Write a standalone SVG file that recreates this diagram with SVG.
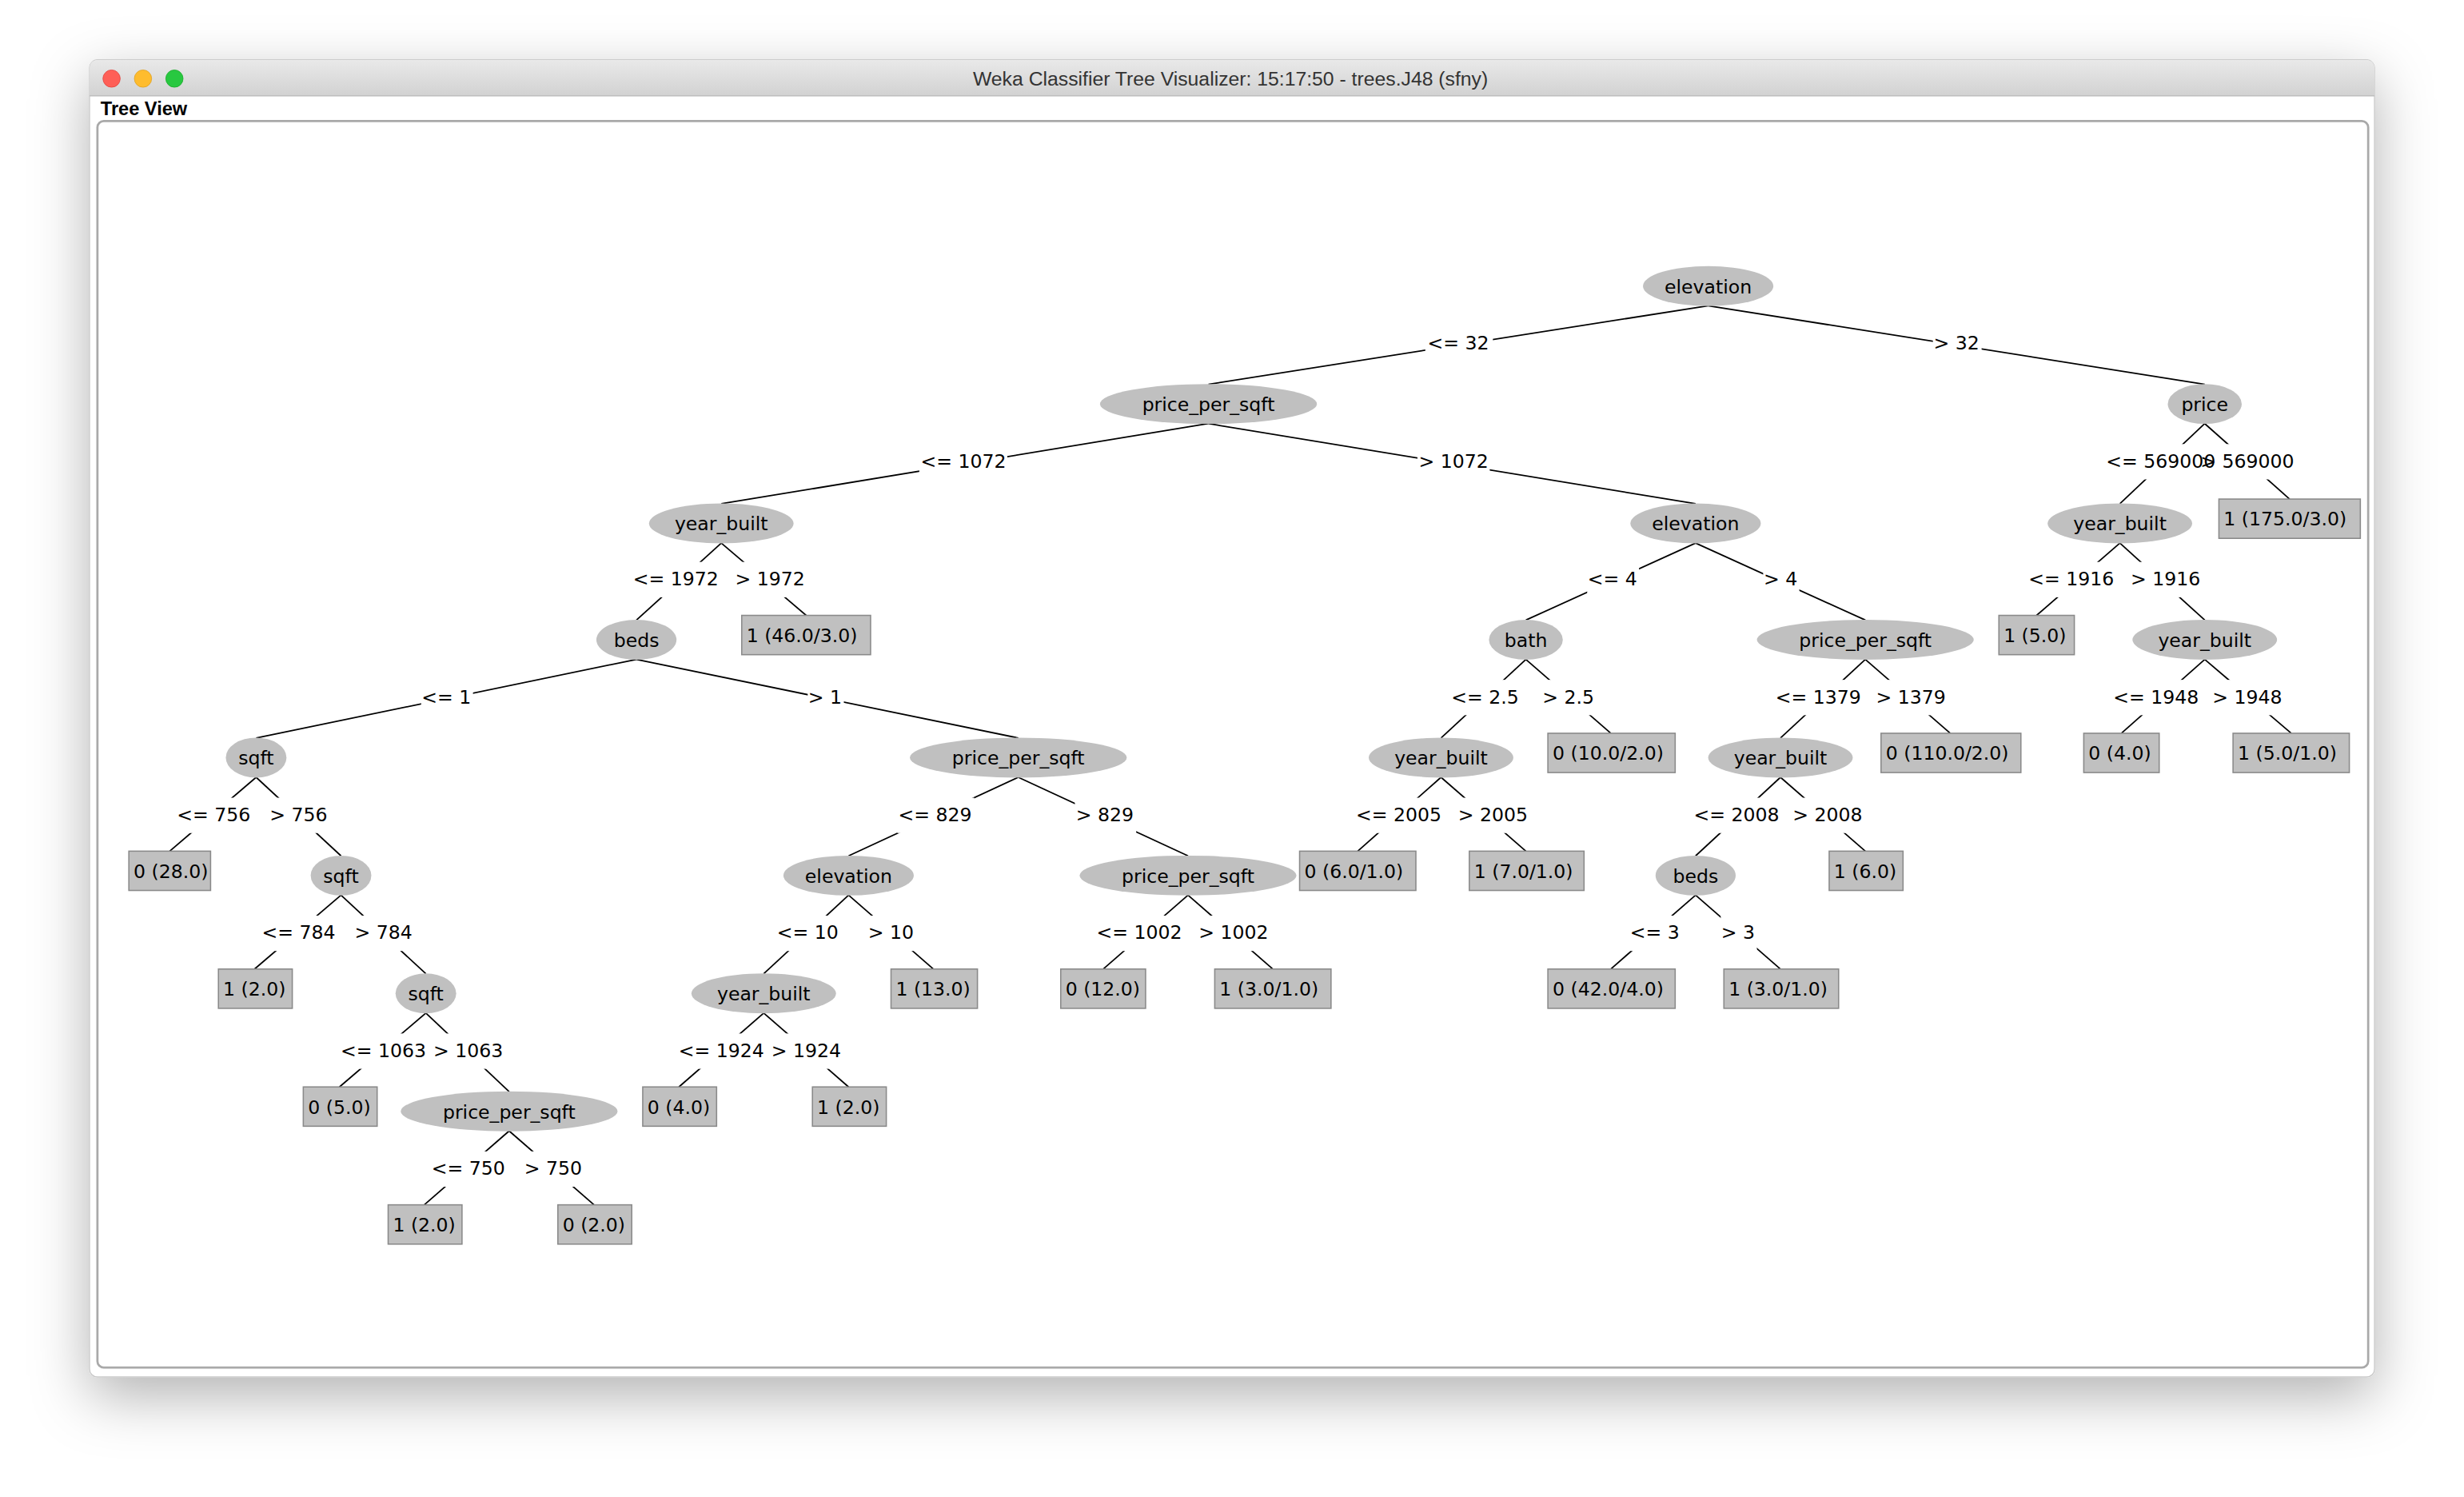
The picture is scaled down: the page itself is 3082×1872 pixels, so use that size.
<svg xmlns="http://www.w3.org/2000/svg" width="3082" height="1872" viewBox="0 0 3082 1872">
<style>
.n ellipse{fill:#c0c0c0}
.lf rect{fill:#c0c0c0;stroke:#8a8a8a;stroke-width:0.8}
.t{font-family:"DejaVu Sans",sans-serif;font-size:12px;fill:#000}
.c{text-anchor:middle}
.ed line{stroke:#000;stroke-width:0.9}
</style>
<defs>
<filter id="sh" x="-10%" y="-10%" width="120%" height="125%"><feDropShadow dx="0" dy="12" stdDeviation="18" flood-color="#000" flood-opacity="0.3"/></filter>
<linearGradient id="tb" x1="0" y1="0" x2="0" y2="1"><stop offset="0" stop-color="#e9e9e9"/><stop offset="1" stop-color="#d2d2d2"/></linearGradient>
<mask id="m" maskUnits="userSpaceOnUse" x="0" y="0" width="1600" height="1000">
<rect x="0" y="0" width="1600" height="1000" fill="#fff"/>
<g fill="#000">
<rect x="907" y="207.5" width="43" height="22.5"/><rect x="1230" y="207.5" width="31" height="22.5"/>
<rect x="585" y="282.5" width="56" height="22.5"/><rect x="902" y="282.5" width="46" height="22.5"/>
<rect x="1339" y="282.5" width="72" height="22.5"/><rect x="1399" y="282.5" width="62" height="22.5"/>
<rect x="402" y="357.5" width="56" height="22.5"/><rect x="467" y="357.5" width="46" height="22.5"/>
<rect x="1010" y="357.5" width="33" height="22.5"/><rect x="1122" y="357.5" width="23" height="22.5"/>
<rect x="1290" y="357.5" width="56" height="22.5"/><rect x="1355" y="357.5" width="46" height="22.5"/>
<rect x="268" y="432.5" width="33" height="22.5"/><rect x="514" y="432.5" width="23" height="22.5"/>
<rect x="923" y="432.5" width="45" height="22.5"/><rect x="981" y="432.5" width="35" height="22.5"/>
<rect x="1129" y="432.5" width="56" height="22.5"/><rect x="1193" y="432.5" width="46" height="22.5"/>
<rect x="1344" y="432.5" width="56" height="22.5"/><rect x="1407" y="432.5" width="46" height="22.5"/>
<rect x="112" y="507.5" width="49" height="22.5"/><rect x="171" y="507.5" width="39" height="22.5"/>
<rect x="571" y="507.5" width="49" height="22.5"/><rect x="684" y="507.5" width="39" height="22.5"/>
<rect x="862" y="507.5" width="56" height="22.5"/><rect x="927" y="507.5" width="46" height="22.5"/>
<rect x="1077" y="507.5" width="56" height="22.5"/><rect x="1140" y="507.5" width="46" height="22.5"/>
<rect x="166" y="582.5" width="49" height="22.5"/><rect x="225" y="582.5" width="39" height="22.5"/>
<rect x="494" y="582.5" width="41" height="22.5"/><rect x="552" y="582.5" width="31" height="22.5"/>
<rect x="697" y="582.5" width="56" height="22.5"/><rect x="762" y="582.5" width="46" height="22.5"/>
<rect x="1037" y="582.5" width="33" height="22.5"/><rect x="1095" y="582.5" width="23" height="22.5"/>
<rect x="216" y="657.5" width="56" height="22.5"/><rect x="275" y="657.5" width="46" height="22.5"/>
<rect x="431" y="657.5" width="56" height="22.5"/><rect x="490" y="657.5" width="46" height="22.5"/>
<rect x="274" y="732.5" width="49" height="22.5"/><rect x="333" y="732.5" width="39" height="22.5"/>
</g></mask>
</defs>
<rect width="3082" height="1872" fill="#fff"/>
<g transform="scale(1.9656)">
<g id="window">
<rect x="57" y="38" width="1454" height="838" rx="5" fill="#fff" stroke="#c4c4c4" stroke-width="0.6" filter="url(#sh)"/>
<path d="M57 61 V43 a5 5 0 0 1 5 -5 H1506 a5 5 0 0 1 5 5 V61 Z" fill="url(#tb)"/>
<line x1="57" y1="61" x2="1511" y2="61" stroke="#b8b8b8" stroke-width="0.6"/>
<circle cx="71" cy="50" r="5.5" fill="#fe5f57" stroke="#e0443e" stroke-width="0.4"/>
<circle cx="91" cy="50" r="5.5" fill="#febc2e" stroke="#dea123" stroke-width="0.4"/>
<circle cx="111" cy="50" r="5.5" fill="#28c840" stroke="#1aab29" stroke-width="0.4"/>
<text x="783" y="54.5" text-anchor="middle" font-family="Liberation Sans, sans-serif" font-size="12.6" fill="#333">Weka Classifier Tree Visualizer: 15:17:50 - trees.J48 (sfny)</text>
<text x="64" y="73.5" font-family="Liberation Sans, sans-serif" font-weight="bold" font-size="12" fill="#000">Tree View</text>
<rect x="62" y="77" width="1445" height="793" rx="4" fill="#fff" stroke="#a9a9a9" stroke-width="1.4"/>
</g>
<g id="connectors" class="ed" mask="url(#m)">
<line x1="1087" y1="194.5" x2="769" y2="244.5"/><line x1="1087" y1="194.5" x2="1403" y2="244.5"/>
<line x1="769" y1="269.5" x2="459" y2="320.5"/><line x1="769" y1="269.5" x2="1079" y2="320.5"/>
<line x1="1403" y1="269.5" x2="1349" y2="320.5"/><line x1="1403" y1="269.5" x2="1457" y2="317.5"/>
<line x1="459" y1="345.5" x2="405" y2="394.5"/><line x1="459" y1="345.5" x2="513" y2="391.5"/>
<line x1="1079" y1="345.5" x2="971" y2="394.5"/><line x1="1079" y1="345.5" x2="1187" y2="394.5"/>
<line x1="1349" y1="345.5" x2="1296" y2="391.5"/><line x1="1349" y1="345.5" x2="1403" y2="394.5"/>
<line x1="405" y1="419.5" x2="163" y2="469.5"/><line x1="405" y1="419.5" x2="648" y2="469.5"/>
<line x1="971" y1="419.5" x2="917" y2="469.5"/><line x1="971" y1="419.5" x2="1025" y2="466.5"/>
<line x1="1187" y1="419.5" x2="1133" y2="469.5"/><line x1="1187" y1="419.5" x2="1241" y2="466.5"/>
<line x1="1403" y1="419.5" x2="1350" y2="466.5"/><line x1="1403" y1="419.5" x2="1458" y2="466.5"/>
<line x1="163" y1="494.5" x2="108" y2="541.5"/><line x1="163" y1="494.5" x2="217" y2="544.5"/>
<line x1="648" y1="494.5" x2="540" y2="544.5"/><line x1="648" y1="494.5" x2="756" y2="544.5"/>
<line x1="917" y1="494.5" x2="864" y2="541.5"/><line x1="917" y1="494.5" x2="971" y2="541.5"/>
<line x1="1133" y1="494.5" x2="1079" y2="544.5"/><line x1="1133" y1="494.5" x2="1187" y2="541.5"/>
<line x1="217" y1="569.5" x2="162" y2="616.5"/><line x1="217" y1="569.5" x2="271" y2="619.5"/>
<line x1="540" y1="569.5" x2="486" y2="619.5"/><line x1="540" y1="569.5" x2="594" y2="616.5"/>
<line x1="756" y1="569.5" x2="702" y2="616.5"/><line x1="756" y1="569.5" x2="810" y2="616.5"/>
<line x1="1079" y1="569.5" x2="1025" y2="616.5"/><line x1="1079" y1="569.5" x2="1133" y2="616.5"/>
<line x1="271" y1="644.5" x2="216" y2="691.5"/><line x1="271" y1="644.5" x2="324" y2="694.5"/>
<line x1="486" y1="644.5" x2="432" y2="691.5"/><line x1="486" y1="644.5" x2="540" y2="691.5"/>
<line x1="324" y1="719.5" x2="270" y2="766.5"/><line x1="324" y1="719.5" x2="378" y2="766.5"/>
</g>
<g id="edge-labels" class="t c">
<text x="928" y="222.5">&lt;= 32</text><text x="1245" y="222.5">&gt; 32</text>
<text x="613" y="297.5">&lt;= 1072</text><text x="925" y="297.5">&gt; 1072</text>
<text x="1375" y="297.5">&lt;= 569000</text><text x="1430" y="297.5">&gt; 569000</text>
<text x="430" y="372.5">&lt;= 1972</text><text x="490" y="372.5">&gt; 1972</text>
<text x="1026" y="372.5">&lt;= 4</text><text x="1133" y="372.5">&gt; 4</text>
<text x="1318" y="372.5">&lt;= 1916</text><text x="1378" y="372.5">&gt; 1916</text>
<text x="284" y="447.5">&lt;= 1</text><text x="525" y="447.5">&gt; 1</text>
<text x="945" y="447.5">&lt;= 2.5</text><text x="998" y="447.5">&gt; 2.5</text>
<text x="1157" y="447.5">&lt;= 1379</text><text x="1216" y="447.5">&gt; 1379</text>
<text x="1372" y="447.5">&lt;= 1948</text><text x="1430" y="447.5">&gt; 1948</text>
<text x="136" y="522.5">&lt;= 756</text><text x="190" y="522.5">&gt; 756</text>
<text x="595" y="522.5">&lt;= 829</text><text x="703" y="522.5">&gt; 829</text>
<text x="890" y="522.5">&lt;= 2005</text><text x="950" y="522.5">&gt; 2005</text>
<text x="1105" y="522.5">&lt;= 2008</text><text x="1163" y="522.5">&gt; 2008</text>
<text x="190" y="597.5">&lt;= 784</text><text x="244" y="597.5">&gt; 784</text>
<text x="514" y="597.5">&lt;= 10</text><text x="567" y="597.5">&gt; 10</text>
<text x="725" y="597.5">&lt;= 1002</text><text x="785" y="597.5">&gt; 1002</text>
<text x="1053" y="597.5">&lt;= 3</text><text x="1106" y="597.5">&gt; 3</text>
<text x="244" y="672.5">&lt;= 1063</text><text x="298" y="672.5">&gt; 1063</text>
<text x="459" y="672.5">&lt;= 1924</text><text x="513" y="672.5">&gt; 1924</text>
<text x="298" y="747.5">&lt;= 750</text><text x="352" y="747.5">&gt; 750</text>
</g>
<g id="n1" class="n"><ellipse cx="1087" cy="182" rx="41.5" ry="12.7"/><text class="t c" x="1087" y="186.5">elevation</text></g>
<g id="n2" class="n"><ellipse cx="769" cy="257" rx="69" ry="12.7"/><text class="t c" x="769" y="261.5">price_per_sqft</text></g>
<g id="n3" class="n"><ellipse cx="1403" cy="257" rx="23.5" ry="12.7"/><text class="t c" x="1403" y="261.5">price</text></g>
<g id="n4" class="n"><ellipse cx="459" cy="333" rx="46" ry="12.7"/><text class="t c" x="459" y="337.5">year_built</text></g>
<g id="n5" class="n"><ellipse cx="1079" cy="333" rx="41.5" ry="12.7"/><text class="t c" x="1079" y="337.5">elevation</text></g>
<g id="n6" class="n"><ellipse cx="1349" cy="333" rx="46" ry="12.7"/><text class="t c" x="1349" y="337.5">year_built</text></g>
<g id="n7" class="n"><ellipse cx="405" cy="407" rx="25.5" ry="12.7"/><text class="t c" x="405" y="411.5">beds</text></g>
<g id="n8" class="n"><ellipse cx="971" cy="407" rx="23.5" ry="12.7"/><text class="t c" x="971" y="411.5">bath</text></g>
<g id="n9" class="n"><ellipse cx="1187" cy="407" rx="69" ry="12.7"/><text class="t c" x="1187" y="411.5">price_per_sqft</text></g>
<g id="n10" class="n"><ellipse cx="1403" cy="407" rx="46" ry="12.7"/><text class="t c" x="1403" y="411.5">year_built</text></g>
<g id="n11" class="n"><ellipse cx="163" cy="482" rx="19.3" ry="12.7"/><text class="t c" x="163" y="486.5">sqft</text></g>
<g id="n12" class="n"><ellipse cx="648" cy="482" rx="69" ry="12.7"/><text class="t c" x="648" y="486.5">price_per_sqft</text></g>
<g id="n13" class="n"><ellipse cx="917" cy="482" rx="46" ry="12.7"/><text class="t c" x="917" y="486.5">year_built</text></g>
<g id="n14" class="n"><ellipse cx="1133" cy="482" rx="46" ry="12.7"/><text class="t c" x="1133" y="486.5">year_built</text></g>
<g id="n15" class="n"><ellipse cx="217" cy="557" rx="19.3" ry="12.7"/><text class="t c" x="217" y="561.5">sqft</text></g>
<g id="n16" class="n"><ellipse cx="540" cy="557" rx="41.5" ry="12.7"/><text class="t c" x="540" y="561.5">elevation</text></g>
<g id="n17" class="n"><ellipse cx="756" cy="557" rx="69" ry="12.7"/><text class="t c" x="756" y="561.5">price_per_sqft</text></g>
<g id="n18" class="n"><ellipse cx="1079" cy="557" rx="25.5" ry="12.7"/><text class="t c" x="1079" y="561.5">beds</text></g>
<g id="n19" class="n"><ellipse cx="271" cy="632" rx="19.3" ry="12.7"/><text class="t c" x="271" y="636.5">sqft</text></g>
<g id="n20" class="n"><ellipse cx="486" cy="632" rx="46" ry="12.7"/><text class="t c" x="486" y="636.5">year_built</text></g>
<g id="n21" class="n"><ellipse cx="324" cy="707" rx="69" ry="12.7"/><text class="t c" x="324" y="711.5">price_per_sqft</text></g>
<g id="l1" class="lf"><rect x="1412" y="317.5" width="90" height="25"/><text class="t" x="1415" y="334.5">1 (175.0/3.0)</text></g>
<g id="l2" class="lf"><rect x="472" y="391.5" width="82" height="25"/><text class="t" x="475" y="408.5">1 (46.0/3.0)</text></g>
<g id="l3" class="lf"><rect x="1272" y="391.5" width="48" height="25"/><text class="t" x="1275" y="408.5">1 (5.0)</text></g>
<g id="l4" class="lf"><rect x="985" y="466.5" width="81" height="25"/><text class="t" x="988" y="483.5">0 (10.0/2.0)</text></g>
<g id="l5" class="lf"><rect x="1197" y="466.5" width="89" height="25"/><text class="t" x="1200" y="483.5">0 (110.0/2.0)</text></g>
<g id="l6" class="lf"><rect x="1326" y="466.5" width="48" height="25"/><text class="t" x="1329" y="483.5">0 (4.0)</text></g>
<g id="l7" class="lf"><rect x="1421" y="466.5" width="74" height="25"/><text class="t" x="1424" y="483.5">1 (5.0/1.0)</text></g>
<g id="l8" class="lf"><rect x="82" y="541.5" width="52" height="25"/><text class="t" x="85" y="558.5">0 (28.0)</text></g>
<g id="l9" class="lf"><rect x="827" y="541.5" width="74" height="25"/><text class="t" x="830" y="558.5">0 (6.0/1.0)</text></g>
<g id="l10" class="lf"><rect x="935" y="541.5" width="73" height="25"/><text class="t" x="938" y="558.5">1 (7.0/1.0)</text></g>
<g id="l11" class="lf"><rect x="1164" y="541.5" width="47" height="25"/><text class="t" x="1167" y="558.5">1 (6.0)</text></g>
<g id="l12" class="lf"><rect x="139" y="616.5" width="47" height="25"/><text class="t" x="142" y="633.5">1 (2.0)</text></g>
<g id="l13" class="lf"><rect x="567" y="616.5" width="55" height="25"/><text class="t" x="570" y="633.5">1 (13.0)</text></g>
<g id="l14" class="lf"><rect x="675" y="616.5" width="54" height="25"/><text class="t" x="678" y="633.5">0 (12.0)</text></g>
<g id="l15" class="lf"><rect x="773" y="616.5" width="74" height="25"/><text class="t" x="776" y="633.5">1 (3.0/1.0)</text></g>
<g id="l16" class="lf"><rect x="985" y="616.5" width="81" height="25"/><text class="t" x="988" y="633.5">0 (42.0/4.0)</text></g>
<g id="l17" class="lf"><rect x="1097" y="616.5" width="73" height="25"/><text class="t" x="1100" y="633.5">1 (3.0/1.0)</text></g>
<g id="l18" class="lf"><rect x="193" y="691.5" width="47" height="25"/><text class="t" x="196" y="708.5">0 (5.0)</text></g>
<g id="l19" class="lf"><rect x="409" y="691.5" width="47" height="25"/><text class="t" x="412" y="708.5">0 (4.0)</text></g>
<g id="l20" class="lf"><rect x="517" y="691.5" width="47" height="25"/><text class="t" x="520" y="708.5">1 (2.0)</text></g>
<g id="l21" class="lf"><rect x="247" y="766.5" width="47" height="25"/><text class="t" x="250" y="783.5">1 (2.0)</text></g>
<g id="l22" class="lf"><rect x="355" y="766.5" width="47" height="25"/><text class="t" x="358" y="783.5">0 (2.0)</text></g>
</g>
</svg>
